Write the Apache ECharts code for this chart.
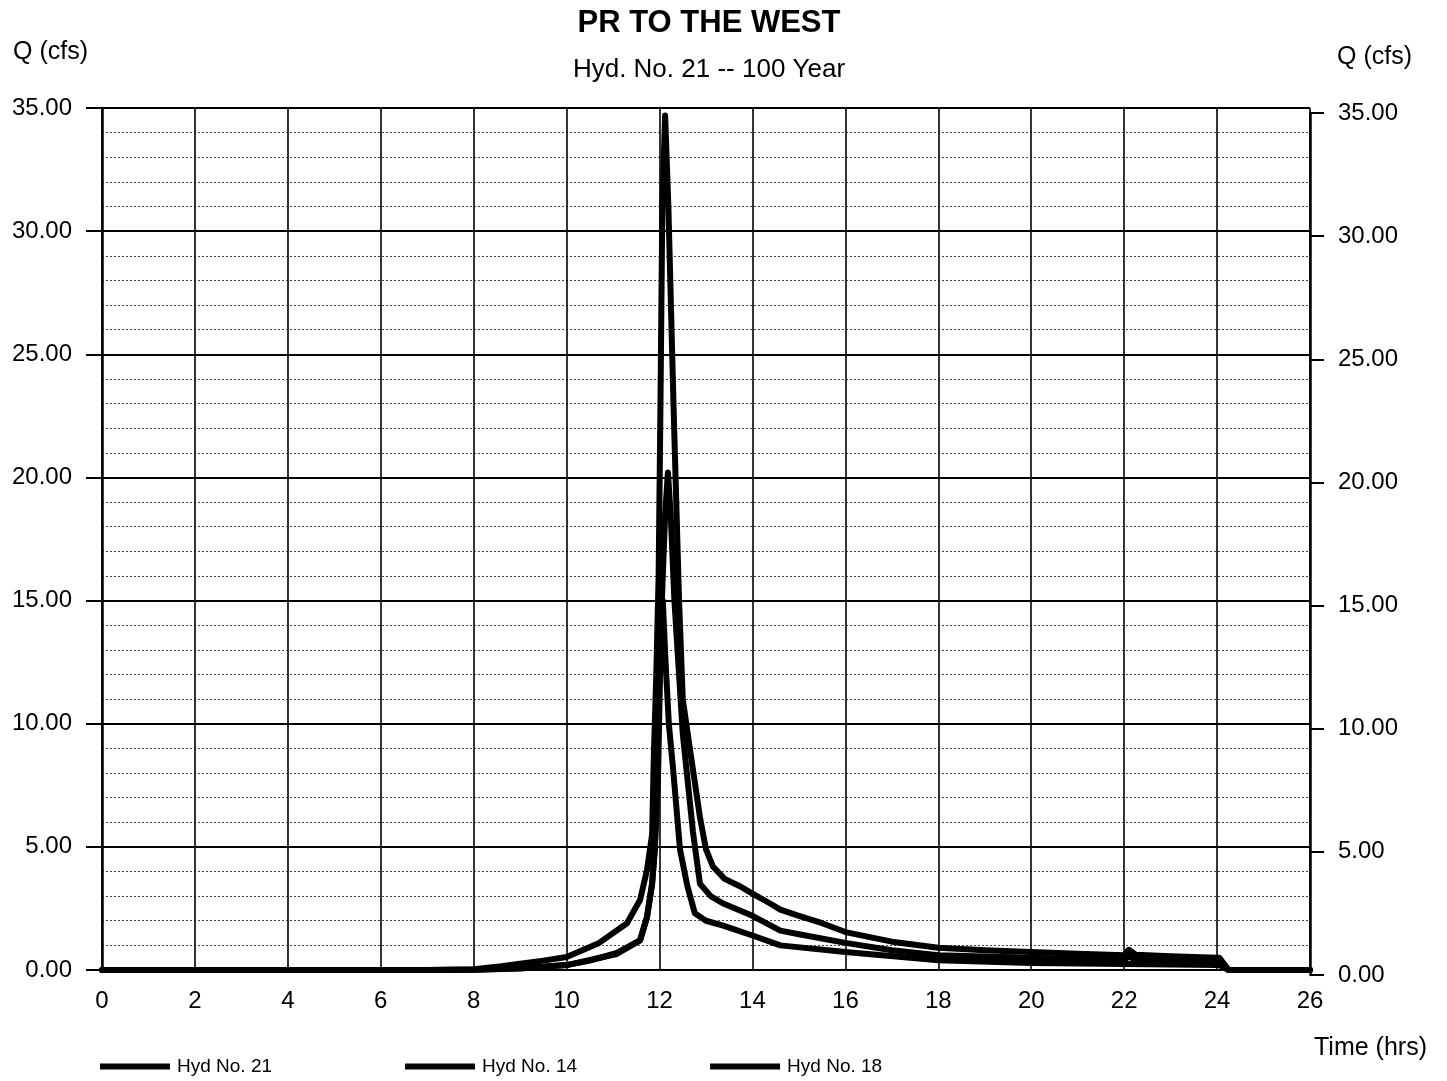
<!DOCTYPE html>
<html><head><meta charset="utf-8">
<script src="https://cdn.jsdelivr.net/npm/echarts@6/dist/echarts.min.js"></script>
<style>html,body{margin:0;padding:0;background:#fff}#c{width:1447px;height:1081px}</style>
</head><body><div id="c"></div>
<script>
// Tick values
const xTicks = [0, 2, 4, 6, 8, 10, 12, 14, 16, 18, 20, 22, 24, 26];
const yTicks = [0, 5, 10, 15, 20, 25, 30, 35];
const seriesNames = ['Hyd No. 21', 'Hyd No. 14', 'Hyd No. 18'];

// Hyd No. 21 (time hrs, Q cfs)
const t21 = [0, 7, 8, 8.6, 9, 9.5, 10, 10.7, 11.3, 11.58, 11.73, 11.84, 11.88, 11.93, 11.98, 12.02, 12.06, 12.12, 12.19, 12.3, 12.42, 12.5, 12.66, 12.87, 13.0, 13.15, 13.4, 13.73, 14.0, 14.38, 14.6, 15.0, 15.5, 16.0, 17.0, 18.0, 19.0, 20.0, 21.0, 22.0, 22.1, 22.25, 23.0, 24.0, 24.05, 24.25, 26];
const q21 = [0, 0, 0.03, 0.15, 0.25, 0.38, 0.53, 1.1, 1.9, 2.84, 4.06, 5.5, 8.9, 12, 16, 23, 31, 34.7, 31, 23, 15, 11, 8.9, 6.2, 4.9, 4.2, 3.7, 3.4, 3.1, 2.7, 2.45, 2.2, 1.9, 1.54, 1.15, 0.9, 0.8, 0.73, 0.66, 0.6, 0.82, 0.62, 0.56, 0.5, 0.5, 0, 0];

// Hyd No. 14
const t14 = [0, 7, 8, 9, 10, 10.5, 11.08, 11.58, 11.73, 11.84, 11.9, 11.97, 12.03, 12.12, 12.18, 12.24, 12.32, 12.5, 12.72, 12.87, 13.1, 13.37, 14.0, 14.6, 15.0, 16.0, 17.0, 18.0, 20.0, 22.0, 22.1, 22.25, 24.0, 24.05, 24.25, 26];
const q14 = [0, 0, 0.01, 0.07, 0.2, 0.38, 0.69, 1.2, 2.15, 3.5, 4.9, 8, 14, 18.5, 20.2, 18.5, 15, 9.6, 5.6, 3.5, 3.0, 2.7, 2.2, 1.6, 1.45, 1.1, 0.8, 0.6, 0.5, 0.4, 0.55, 0.42, 0.35, 0.35, 0, 0];

// Hyd No. 18
const t18 = [0, 7, 8, 9, 10, 11.08, 11.58, 11.73, 11.84, 11.9, 11.96, 12.02, 12.07, 12.13, 12.2, 12.29, 12.44, 12.6, 12.76, 13.0, 13.37, 14.0, 14.6, 16.0, 18.0, 20.0, 22.0, 24.0, 24.05, 24.25, 26];
const q18 = [0, 0, 0.01, 0.06, 0.2, 0.65, 1.2, 2.15, 3.5, 5.0, 9, 13.5, 15, 12.5, 10, 8.2, 4.9, 3.4, 2.3, 2.0, 1.8, 1.4, 1.0, 0.73, 0.4, 0.28, 0.24, 0.2, 0.2, 0, 0];

const pairs = (t, q) => t.map((v, i) => [v, q[i]]);
const FONT = 'Liberation Sans, Arial, sans-serif';
const chart = echarts.init(document.getElementById('c'), null, {renderer: 'canvas'});

const lineSeries = (name, t, q) => ({
  name, type: 'line', xAxisIndex: 0, yAxisIndex: 0,
  data: pairs(t, q), showSymbol: false, symbol: 'none',
  lineStyle: {color: '#000', width: 6, join: 'round', cap: 'round'},
  itemStyle: {color: '#000'}, z: 5
});

chart.setOption({
  backgroundColor: '#fff',
  animation: false,
  textStyle: {fontFamily: FONT, color: '#000'},
  title: {
    text: 'PR TO THE WEST', subtext: 'Hyd. No. 21 -- 100 Year',
    left: 704, textAlign: 'center', top: 3, itemGap: 18,
    textStyle: {fontFamily: FONT, fontWeight: 'bold', fontSize: 31, color: '#000'},
    subtextStyle: {fontFamily: FONT, fontSize: 26, color: '#000'}
  },
  legend: {
    data: seriesNames, left: 95, top: 1052, itemGap: 133,
    icon: 'rect', itemWidth: 70, itemHeight: 6,
    textStyle: {fontFamily: FONT, fontSize: 19, color: '#000', padding: [0, 0, 0, 2]}
  },
  graphic: [
    {type: 'text', left: 13, top: 40, style: {text: 'Q (cfs)', font: '25px ' + FONT, fill: '#000'}},
    {type: 'text', left: 1337, top: 45, style: {text: 'Q (cfs)', font: '25px ' + FONT, fill: '#000'}},
    {type: 'text', left: 1314, top: 1036, style: {text: 'Time (hrs)', font: '25px ' + FONT, fill: '#000'}}
  ],
  grid: [
    {left: 102, right: 137, top: 108, bottom: 111},
    {left: 102, right: 137, top: 113, bottom: 106}
  ],
  xAxis: [
    {type: 'value', gridIndex: 0, min: xTicks[0], max: xTicks[xTicks.length - 1], interval: 2,
     axisLine: {show: true, onZero: false, lineStyle: {color: '#000', width: 2}},
     axisTick: {show: false},
     axisLabel: {fontFamily: FONT, fontSize: 24, color: '#000', margin: 19},
     splitLine: {show: true, lineStyle: {color: '#000', width: 1.6}}},
    {type: 'value', gridIndex: 1, min: 0, max: 26, show: false, axisLine: {onZero: false}}
  ],
  yAxis: [
    {type: 'value', gridIndex: 0, position: 'left', min: yTicks[0], max: yTicks[yTicks.length - 1], interval: 5,
     axisLine: {show: true, onZero: false, lineStyle: {color: '#000', width: 2.5}},
     axisTick: {show: true, length: 16, lineStyle: {color: '#000', width: 2}},
     axisLabel: {fontFamily: FONT, fontSize: 24, color: '#000', margin: 30, formatter: v => v.toFixed(2)},
     splitLine: {show: true, lineStyle: {color: '#000', width: 2}},
     minorTick: {show: false, splitNumber: 5},
     minorSplitLine: {show: true, lineStyle: {color: '#444', width: 1, type: [2, 2]}}},
    {type: 'value', gridIndex: 1, position: 'right', min: 0, max: 35, interval: 5,
     axisLine: {show: true, onZero: false, lineStyle: {color: '#000', width: 2.5}},
     axisTick: {show: true, length: 14, lineStyle: {color: '#000', width: 2}},
     axisLabel: {fontFamily: FONT, fontSize: 24, color: '#000', margin: 28, formatter: v => v.toFixed(2)},
     splitLine: {show: false}}
  ],
  series: [
    lineSeries(seriesNames[0], t21, q21),
    lineSeries(seriesNames[1], t14, q14),
    lineSeries(seriesNames[2], t18, q18)
  ]
});
</script></body></html>
